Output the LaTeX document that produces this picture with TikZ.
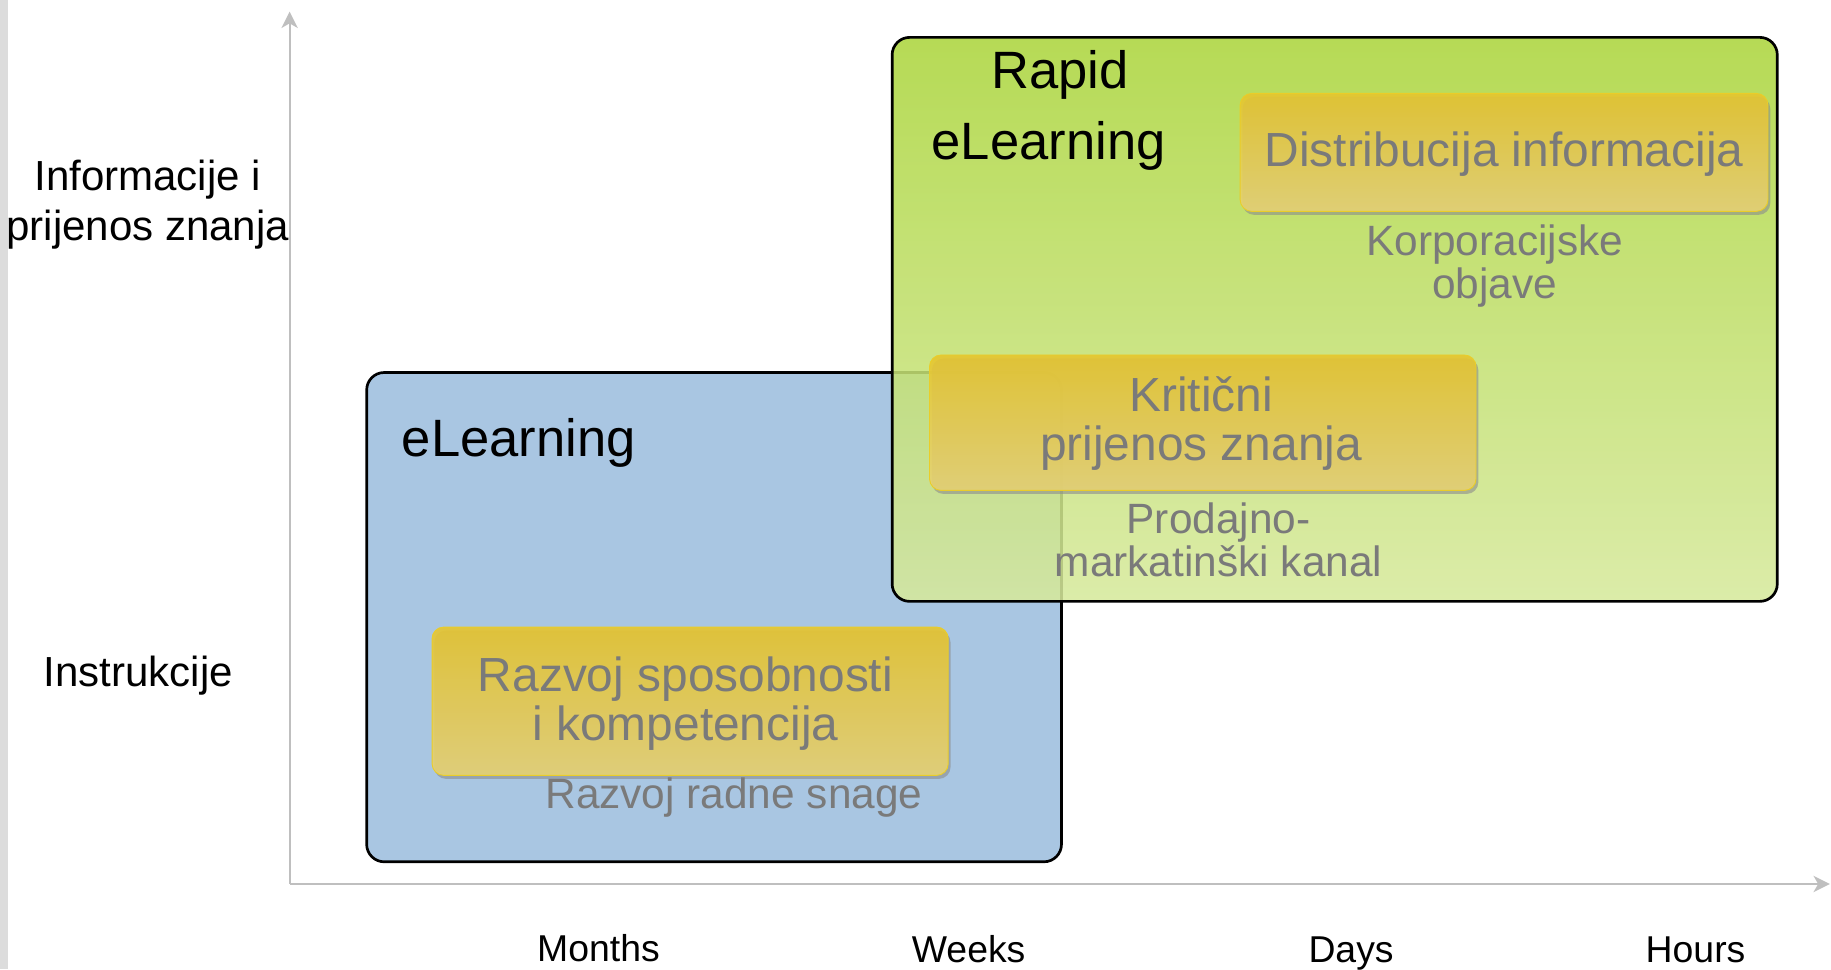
\documentclass[tikz,border=0pt]{standalone}
\usepackage{fontspec}
\setmainfont{Liberation Sans}
\usetikzlibrary{arrows.meta,shadows}
\definecolor{axisgray}{HTML}{BFBFBF}
\definecolor{barGray}{HTML}{DCDCDC}
\definecolor{blueFill}{HTML}{A9C6E2}
\definecolor{greenTop}{HTML}{ABD53C}
\definecolor{greenBot}{HTML}{D6E99C}
\definecolor{yTop}{HTML}{E6C52E}
\definecolor{yBot}{HTML}{E6D274}
\definecolor{yEdge}{HTML}{EACD28}
\definecolor{txtGray}{HTML}{7A7A7A}
\begin{document}
\begin{tikzpicture}[x=1pt,y=-1pt,
  axis/.style={draw=axisgray,line width=1.6pt,-{Stealth[length=14pt,width=14pt,inset=4pt]}},
  bigbox/.style={draw=black,line width=2.3pt,rounded corners=15pt,inner sep=0pt},
  ybox/.style={draw=yEdge,line width=0.8pt,rounded corners=10pt,top color=yTop,bottom color=yBot,
     fill opacity=0.9,inner sep=0pt,
     drop shadow={shadow xshift=2pt,shadow yshift=-3pt,fill=black!45,opacity=0.6}},
  axlabel/.style={font=\fontsize{36}{43}\selectfont,align=center,text=black,inner sep=0pt},
  timelabel/.style={font=\fontsize{32}{38}\selectfont,text=black,inner sep=0pt,anchor=base},
  title/.style={font=\fontsize{45}{61.5}\selectfont,text=black,inner sep=0pt,align=center},
  ytext/.style={font=\fontsize{41}{41.5}\selectfont,text=txtGray,inner sep=0pt,align=center},
  subtext/.style={font=\fontsize{36.3}{37}\selectfont,text=txtGray,inner sep=0pt,align=center}
]
\useasboundingbox (0,0) rectangle (1568,830);
\fill[barGray] (0,0) rectangle (7,830);
% axes
\coordinate (origin) at (248,757);
\coordinate (ytip) at (248,10);
\coordinate (xtip) at (1567,757);
\draw[axis] (origin) -- (ytip);
\draw[axis] (origin) -- (xtip);
% axis labels
\node[axlabel,anchor=base] (info) at (126.5,206) {Informacije i\\prijenos znanja};
\node[axlabel,anchor=base] (instr) at (118.5,587.5) {Instrukcije};
\node[timelabel] (months) at (512.5,823.5) {Months};
\node[timelabel] (weeks) at (829.5,824) {Weeks};
\node[timelabel] (days) at (1157,824) {Days};
\node[timelabel] (hours) at (1452,824) {Hours};
% boxes
\node[bigbox,fill=blueFill,minimum width=595pt,minimum height=419pt] (blue) at (611.5,528.5) {};
\node[bigbox,top color=greenTop,bottom color=greenBot,fill opacity=0.87,minimum width=758pt,minimum height=483pt] (green) at (1143,273.5) {};
\node[title,anchor=base west] (el) at (344,391) {eLearning};
\node[title,anchor=base] (rapid) at (898,137) {\hspace*{19pt}Rapid\\eLearning};
% yellow boxes
\node[ybox,minimum width=452pt,minimum height=101pt] (y1) at (1288,130.5) {};
\node[ybox,minimum width=468pt,minimum height=116pt] (y2) at (1030,362) {};
\node[ybox,minimum width=442pt,minimum height=127pt] (y3) at (591,600.5) {};
\node[ytext,anchor=base] (t1) at (1288,142.7) {Distribucija informacija};
\node[ytext,anchor=base] (t2) at (1028.5,394) {Kritični\\prijenos znanja};
\node[ytext,anchor=base] (t3) at (587,633.7) {Razvoj sposobnosti\\i kompetencija};
\node[subtext,anchor=base] (s1) at (1280,255.5) {Korporacijske\\objave};
\node[subtext,anchor=base] (s2) at (1043.5,494) {Prodajno-\\markatinški kanal};
\node[subtext,anchor=base] (s3) at (628.5,692) {Razvoj radne snage};
\end{tikzpicture}
\end{document}
